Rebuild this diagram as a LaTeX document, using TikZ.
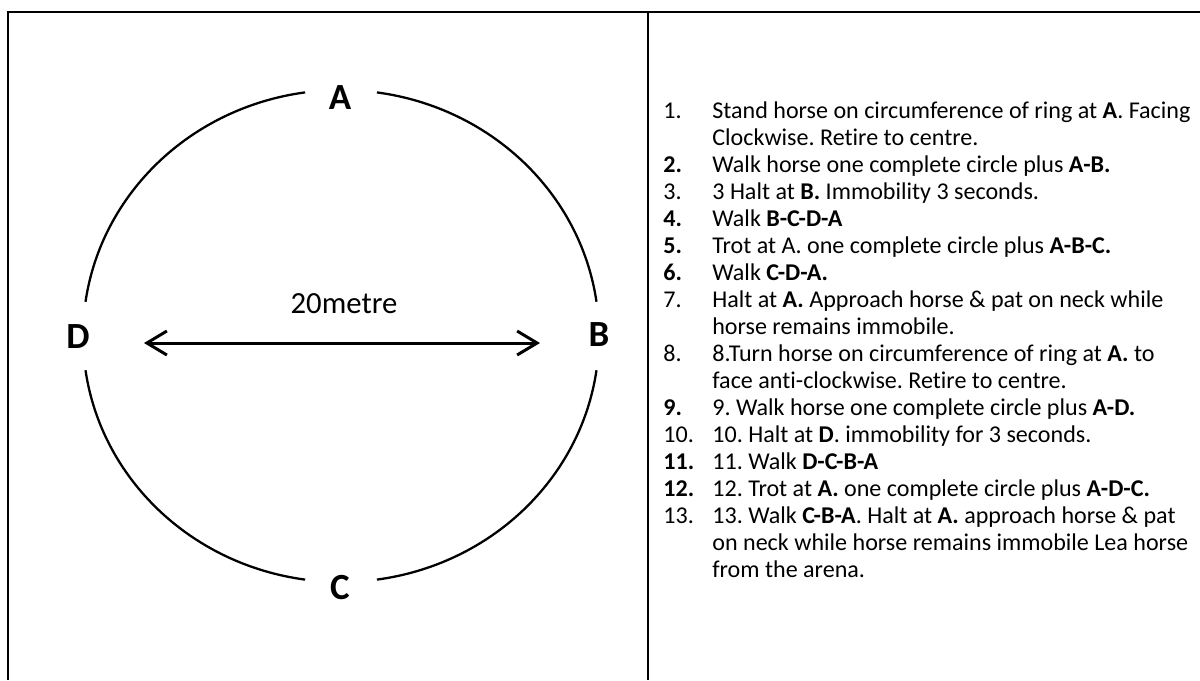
\documentclass[tikz,border=0pt]{standalone}
\usepackage{fontspec}
\setmainfont{Carlito}[Ligatures=NoCommon]
\frenchspacing
\usetikzlibrary{arrows.meta}

\tikzset{
  frame/.style={line width=1.5pt},
  ring/.style={line width=1.3pt},
  span/.style={line width=1.7pt,{Straight Barb[length=4mm,width=4.8mm]}-{Straight Barb[length=4mm,width=4.8mm]}},
  point/.style={font=\fontsize{21}{25}\selectfont\bfseries},
  num/.style={anchor=base west,inner sep=0pt,font=\fontsize{13.7}{15.3}\selectfont},
  item/.style={anchor=base west,inner sep=0pt,align=left,font=\fontsize{13.7}{15.3}\selectfont},
}

\begin{document}
\begin{tikzpicture}[x=0.02cm,y=-0.02cm]
\useasboundingbox (0,0) rectangle (1200,680);
% table frame
\draw[frame] (8,680) -- (8,12) -- (1200,12);
\draw[frame] (648,12) -- (648,680);
% ring with gaps at the four points
\coordinate (ring) at (341,336);
\foreach \s in {0,90,180,270}
  \draw[ring] (ring) ++(\s+8:258 and 246) arc[start angle=\s+8,end angle=\s+82,x radius=258,y radius=246];
\node[point] (A) at (340,98) {A};
\node[point] (B) at (599,335) {B};
\node[point] (C) at (340,588) {C};
\node[point] (D) at (78,337) {D};
% diameter
\coordinate (west end) at (144,343);
\coordinate (east end) at (540,343);
\draw[span] (west end) -- (east end);
\node[font=\fontsize{17.5}{21}\selectfont] (metre) at (344,304) {20metre};
% test list (multi-line items sit on their last line)
\node[num] (n1) at (663,118) {1.};
\node[item] (t1) at (712,145) {Stand horse on circumference of ring at \textbf{A}. Facing\\Clockwise. Retire to centre.};
\node[num] (n2) at (663,172) {\textbf{2.}};
\node[item] (t2) at (712,172) {Walk horse one complete circle plus \textbf{A-B.}};
\node[num] (n3) at (663,199) {3.};
\node[item] (t3) at (712,199) {3 Halt at \textbf{B.} Immobility 3 seconds.};
\node[num] (n4) at (663,226) {\textbf{4.}};
\node[item] (t4) at (712,226) {Walk \textbf{B-C-D-A}};
\node[num] (n5) at (663,253) {\textbf{5.}};
\node[item] (t5) at (712,253) {Trot at A. one complete circle plus \textbf{A-B-C.}};
\node[num] (n6) at (663,280) {\textbf{6.}};
\node[item] (t6) at (712,280) {Walk \textbf{C-D-A.}};
\node[num] (n7) at (663,307) {7.};
\node[item] (t7) at (712,334) {Halt at \textbf{A.} Approach horse \& pat on neck while\\horse remains immobile.};
\node[num] (n8) at (663,361) {8.};
\node[item] (t8) at (712,388) {8.Turn horse on circumference of ring at \textbf{A.} to\\face anti-clockwise. Retire to centre.};
\node[num] (n9) at (663,415) {\textbf{9.}};
\node[item] (t9) at (712,415) {9. Walk horse one complete circle plus \textbf{A-D.}};
\node[num] (n10) at (663,442) {10.};
\node[item] (t10) at (712,442) {10. Halt at \textbf{D}. immobility for 3 seconds.};
\node[num] (n11) at (663,469) {\textbf{11.}};
\node[item] (t11) at (712,469) {11. Walk \textbf{D-C-B-A}};
\node[num] (n12) at (663,496) {\textbf{12.}};
\node[item] (t12) at (712,496) {12. Trot at \textbf{A.} one complete circle plus \textbf{A-D-C.}};
\node[num] (n13) at (663,523) {13.};
\node[item] (t13) at (712,577) {13. Walk \textbf{C-B-A}. Halt at \textbf{A.} approach horse \& pat\\on neck while horse remains immobile Lea horse\\from the arena.};
\end{tikzpicture}
\end{document}
